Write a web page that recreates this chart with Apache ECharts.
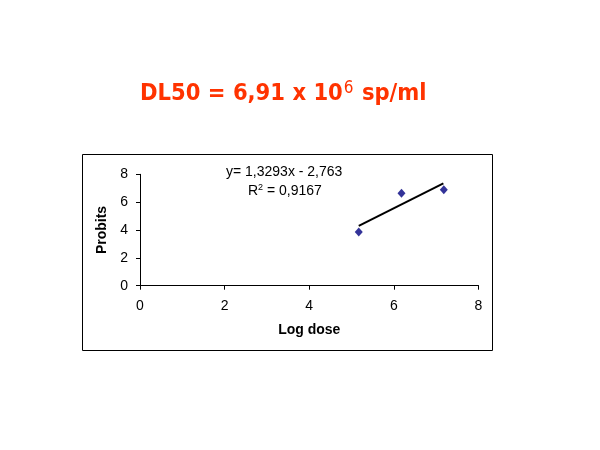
<!DOCTYPE html>
<html><head><meta charset="utf-8">
<script src="https://cdn.jsdelivr.net/npm/echarts@6/dist/echarts.min.js"></script>
<style>html,body{margin:0;padding:0;background:#fff}#c{width:600px;height:450px}</style>
</head><body><div id="c"></div>
<script>
const logDose = [5.17, 6.18, 7.18];
const probits = [3.86, 6.64, 6.89];
const trendX = [5.17, 7.17];
const trendY = [4.29, 7.35];
const xTicks = [0, 2, 4, 6, 8];
const yTicks = [0, 2, 4, 6, 8];
const equationText = 'y= 1,3293x - 2,763';
const r2Text = '0,9167';

const chart = echarts.init(document.getElementById('c'), null, {renderer:'canvas'});
chart.setOption({
  animation:false,
  backgroundColor:'#fff',
  title:{
    text:'{a|DL50 = 6,91 x 10}{s|6}{a| sp/ml}',
    left:135, top:75,
    textStyle:{rich:{
      a:{fontFamily:'DejaVu Sans Condensed', fontWeight:'bold', fontSize:23.5, color:'#FF3300'},
      s:{fontFamily:'DejaVu Sans Condensed', fontWeight:'normal', fontSize:17, color:'#FF3300', verticalAlign:'top', padding:[0,1,10,1]}
    }}
  },
  graphic:[
    {type:'rect', shape:{x:82.5,y:154.5,width:410,height:196}, style:{fill:'none', stroke:'#000', lineWidth:1}, z:-1},
    {type:'text', left:226, top:165, style:{text:equationText, font:'14px "Liberation Sans"', fill:'#000'}},
    {type:'text', left:248, top:183, style:{text:'{a|R}{s|2}{a| = '+r2Text+'}', rich:{a:{fontFamily:'Liberation Sans',fontSize:14,fill:'#000'}, s:{fontFamily:'Liberation Sans',fontSize:9,fill:'#000',verticalAlign:'top',padding:[0,0,7,0]}}}}
  ],
  grid:{left:140, right:121.5, top:174.3, bottom:164.3, containLabel:false},
  xAxis:{
    type:'value', min:0, max:8, interval:2,
    name:'Log dose', nameLocation:'middle', nameGap:37,
    nameTextStyle:{fontFamily:'Liberation Sans', fontWeight:'bold', fontSize:14, color:'#000'},
    axisLine:{show:true, onZero:false, lineStyle:{color:'#000', width:1}},
    axisTick:{show:true, inside:false, length:4, lineStyle:{color:'#000'}},
    axisLabel:{fontFamily:'Liberation Sans', fontSize:14, color:'#000', margin:13, formatter:v=>xTicks.includes(v)?String(v):''},
    splitLine:{show:false}
  },
  yAxis:{
    type:'value', min:0, max:8, interval:2,
    name:'Probits', nameLocation:'middle', nameGap:28, nameRotate:90,
    nameTextStyle:{fontFamily:'Liberation Sans', fontWeight:'bold', fontSize:14, color:'#000'},
    axisLine:{show:true, onZero:false, lineStyle:{color:'#000', width:1}},
    axisTick:{show:true, inside:false, length:4, lineStyle:{color:'#000'}},
    axisLabel:{fontFamily:'Liberation Sans', fontSize:14, color:'#000', margin:12, formatter:v=>yTicks.includes(v)?String(v):''},
    splitLine:{show:false}
  },
  series:[
    {type:'line', data:trendX.map((x,i)=>[x,trendY[i]]), symbol:'none', lineStyle:{color:'#000', width:2}, silent:true},
    {type:'scatter', data:logDose.map((x,i)=>[x,probits[i]]), symbol:'diamond', symbolSize:[8,9], itemStyle:{color:'#000080'}}
  ]
});
</script></body></html>
